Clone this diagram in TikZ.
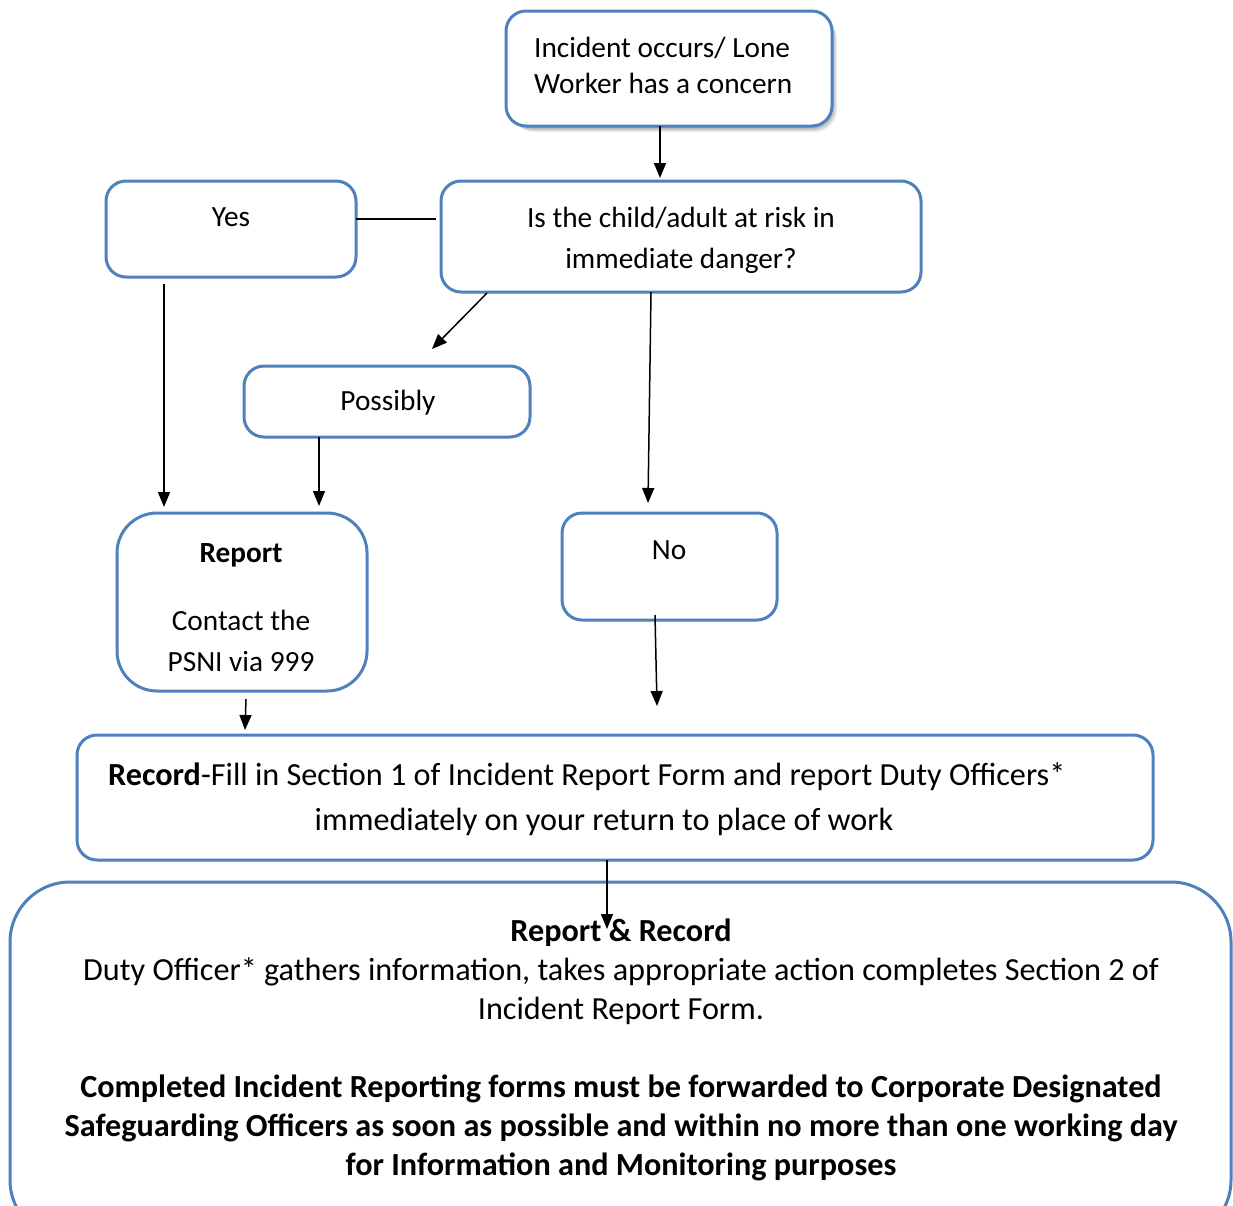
\documentclass[tikz,border=0pt]{standalone}
\usepackage{fontspec}
\setmainfont{Carlito}
\usetikzlibrary{arrows.meta,calc}
\definecolor{boxblue}{RGB}{79,129,189}
\begin{document}
\begin{tikzpicture}[x=1pt,y=-1pt,
  box/.style={draw=boxblue,line width=3pt,fill=white,rounded corners=#1,inner sep=0pt},
  box/.default=20pt,
  shade layer/.style={fill=black,fill opacity=0.07,rounded corners=22pt},
  txt/.style={font=\fontsize{29.3}{36}\selectfont,anchor=base,inner sep=0pt},
  btxt/.style={font=\fontsize{29.3}{36}\selectfont\bfseries,anchor=base,inner sep=0pt},
  ltxt/.style={font=\fontsize{32.2}{40}\selectfont,anchor=base,inner sep=0pt},
  lbtxt/.style={font=\fontsize{32.2}{40}\selectfont\bfseries,anchor=base,inner sep=0pt},
  conn/.style={line width=1.5pt,black},
  arr/.style={conn,-{Triangle[width=12pt,length=15pt]}}]
\clip (0,0) rectangle (1233,1205);
\fill[white] (0,0) rectangle (1233,1205);
% soft shadow of the top box
\foreach \s in {2,3,4,5,6}
  \fill[shade layer] (506+\s,11+\s) rectangle (832+\s-1,126+\s);
% boxes
\draw[box] (506,11) rectangle (832,126);
\node[minimum width=326pt,minimum height=115pt,inner sep=0pt] (top) at (669,68.5) {};
\draw[box] (441,181) rectangle (921,292);
\node[minimum width=480pt,minimum height=111pt,inner sep=0pt] (q) at (681,236.5) {};
\draw[box] (106,181) rectangle (356,277);
\node[minimum width=250pt,minimum height=96pt,inner sep=0pt] (yes) at (231,229) {};
\draw[box] (244,366) rectangle (530,437);
\node[minimum width=286pt,minimum height=71pt,inner sep=0pt] (pos) at (387,401.5) {};
\draw[box=40pt] (117,513) rectangle (367,691);
\node[minimum width=250pt,minimum height=178pt,inner sep=0pt] (rep) at (242,602) {};
\draw[box] (562,513) rectangle (777,620);
\node[minimum width=215pt,minimum height=107pt,inner sep=0pt] (no) at (669.5,566.5) {};
\draw[box] (77,735) rectangle (1153,860);
\node[minimum width=1076pt,minimum height=125pt,inner sep=0pt] (rec) at (615,797.5) {};
\draw[box=60pt] (10,882) rectangle (1231,1240);
\node[minimum width=1221pt,minimum height=358pt,inner sep=0pt] (fin) at (620.5,1061) {};
% texts
\node[txt,anchor=base west] (t1) at (534,57) {Incident occurs/ Lone};
\node[txt,anchor=base west] (t2) at (534,93) {Worker has a concern};
\node[txt] (q1) at (681,227) {Is the child/adult at risk in};
\node[txt] (q2) at (681,268) {immediate danger?};
\node[txt] (yt) at (231,226) {Yes};
\node[txt] (pt) at (388,410) {Possibly};
\node[btxt] (r1) at (241,562) {Report};
\node[txt] (r2) at (241,630) {Contact the};
\node[txt] (r3) at (241,671) {PSNI via 999};
\node[txt] (nt) at (669,559) {No};
\node[ltxt,anchor=base west] (c1) at (108,785) {\textbf{Record}-Fill in Section 1 of Incident Report Form and report Duty Officers*};
\node[ltxt] (c2) at (604,830) {immediately on your return to place of work};
\node[lbtxt] (f1) at (621,941) {Report \& Record};
\node[ltxt] (f2) at (621,980) {Duty Officer* gathers information, takes appropriate action completes Section 2 of};
\node[ltxt] (f3) at (621,1019) {Incident Report Form.};
\node[lbtxt] (f4) at (621,1097) {Completed Incident Reporting forms must be forwarded to Corporate Designated};
\node[lbtxt] (f5) at (621,1136) {Safeguarding Officers as soon as possible and within no more than one working day};
\node[lbtxt] (f6) at (621,1175) {for Information and Monitoring purposes};
% connector end points
\coordinate (a1) at (660,126);
\coordinate (a1e) at (660,178);
\coordinate (a2) at (356,219);
\coordinate (a2e) at (436,219);
\coordinate (a3) at (164,284);
\coordinate (a3e) at (164,507);
\coordinate (a4) at (487,293);
\coordinate (a4e) at (432,349);
\coordinate (a5) at (651,292);
\coordinate (a5e) at (648,503);
\coordinate (a6) at (319,437);
\coordinate (a6e) at (319,506);
\coordinate (a7) at (246,699);
\coordinate (a7e) at (245,730);
\coordinate (a8) at (655,615);
\coordinate (a8e) at (657,706);
\coordinate (a9) at (607,860);
\coordinate (a9e) at (607,929);
\draw[arr] (a1) -- (a1e);
\draw[conn] (a2) -- (a2e);
\draw[arr] (a3) -- (a3e);
\draw[arr] (a4) -- (a4e);
\draw[arr] (a5) -- (a5e);
\draw[arr] (a6) -- (a6e);
\draw[arr] (a7) -- (a7e);
\draw[arr] (a8) -- (a8e);
\draw[arr] (a9) -- (a9e);
\end{tikzpicture}
\end{document}
